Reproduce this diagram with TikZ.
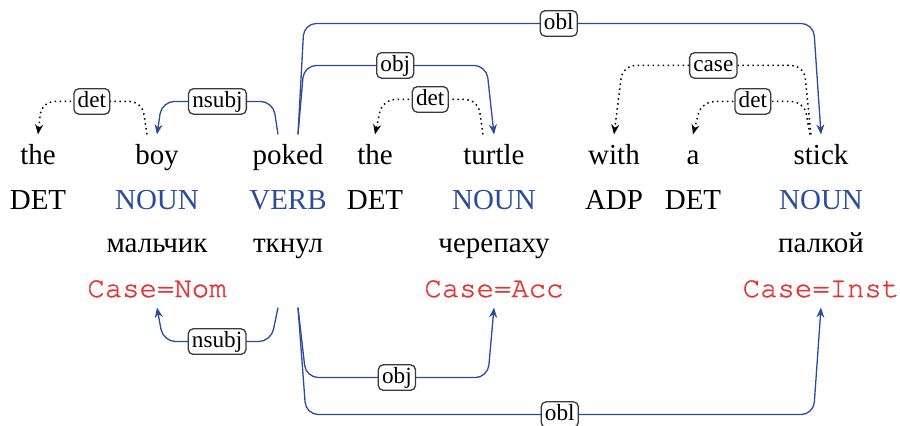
\documentclass[tikz,border=0pt]{standalone}
\usepackage{fontspec}
\setmainfont{Liberation Serif}
\setmonofont{texgyrecursor}[Extension=.otf, UprightFont=*-regular, FakeBold=1.2]
\usetikzlibrary{arrows.meta}
\definecolor{DepBlue}{HTML}{2B4C9E}
\definecolor{FeatRed}{HTML}{E63232}
\definecolor{LblGray}{HTML}{3A3A3A}

\tikzset{
  word/.style={anchor=base, text height=6.9pt, text depth=0pt, inner sep=3.1pt},
  tag/.style={anchor=base, inner sep=1pt},
  gloss/.style={anchor=base, inner sep=1pt},
  feat/.style={anchor=base, font=\ttfamily, FeatRed, text depth=0pt, inner sep=3.45pt},
  lbl/.style={draw=LblGray, solid, text=black, fill=white, line width=0.45pt, rounded corners=1.7pt,
    font=\footnotesize, inner xsep=1.3pt, inner ysep=0.7pt, text height=5.7pt, text depth=1.7pt},
  dep/.style={DepBlue, line width=0.45pt, rounded corners=4.3pt, -{Stealth[length=3.45pt,width=2.75pt]}},
  fdep/.style={black, line width=0.52pt, dash pattern=on 0.52pt off 1.2pt, rounded corners=4.3pt, -{Stealth[length=3.45pt,width=2.75pt]}}
}

\begin{document}
\begin{tikzpicture}[x=0.345pt, y=-0.345pt]
  \useasboundingbox (0,0) rectangle (900,426);
  % English words
  \node[word] (the1) at (38,164) {the};
  \node[word] (boy) at (157,164) {boy};
  \node[word] (poked) at (288,164) {poked};
  \node[word] (the2) at (375,164) {the};
  \node[word] (turtle) at (494,164) {turtle};
  \node[word] (with) at (614,164) {with};
  \node[word] (a) at (693,164) {a};
  \node[word] (stick) at (821,164) {stick};
  % POS tags
  \node[tag] (tThe1) at (38,209) {DET};
  \node[tag, DepBlue] (tBoy) at (157,209) {NOUN};
  \node[tag, DepBlue] (tPoked) at (288,209) {VERB};
  \node[tag] (tThe2) at (375,209) {DET};
  \node[tag, DepBlue] (tTurtle) at (494,209) {NOUN};
  \node[tag] (tWith) at (614,209) {ADP};
  \node[tag] (tA) at (693,209) {DET};
  \node[tag, DepBlue] (tStick) at (821,209) {NOUN};
  % Russian glosses
  \node[gloss] (ruBoy) at (157,252) {мальчик};
  \node[gloss] (ruPoked) at (288,252) {ткнул};
  \node[gloss] (ruTurtle) at (494,252) {черепаху};
  \node[gloss] (ruStick) at (821,252) {палкой};
  % case features
  \node[feat] (caseNom) at (157,297) {Case=Nom};
  \node[feat] (caseAcc) at (494,297) {Case=Acc};
  \node[feat] (caseInst) at (821,297) {Case=Inst};

  % arcs above the sentence
  \draw[fdep] ([xshift=-3.45pt]boy.north) -- ++(-5,-33) coordinate (k)
    -- node[lbl] (lDetBoy) {det} ([xshift=1.3pt]the1.north |- k) -- (the1.north);
  \draw[dep] ([xshift=-3.45pt]poked.north) -- ++(-5,-33) coordinate (k)
    -- node[lbl] (lNsubj) {nsubj} ([xshift=1.7pt]boy.north |- k) -- (boy.north);
  \draw[dep] ([xshift=3.45pt]poked.north) -- ++(6,-69) coordinate (k)
    -- node[lbl] (lObj) {obj} ([xshift=-2.6pt]turtle.north |- k) -- (turtle.north);
  \draw[dep] ([xshift=3.45pt]poked.north) -- ++(6,-111) coordinate (k)
    -- node[lbl] (lObl) {obl} ([xshift=-2.6pt]stick.north |- k) -- (stick.north);
  \draw[fdep] ([xshift=-3.8pt]turtle.north) -- ++(-5,-35) coordinate (k)
    -- node[lbl] (lDetTurtle) {det} ([xshift=2.6pt]the2.north |- k) -- (the2.north);
  \draw[fdep] ([xshift=-3.45pt]stick.north) -- ++(-7,-69) coordinate (k)
    -- node[lbl] (lCase) {case} ([xshift=3pt]with.north |- k) -- (with.north);
  \draw[fdep] ([xshift=-3.8pt]stick.north) -- ++(-6,-33) coordinate (k)
    -- node[lbl] (lDetStick) {det} ([xshift=3pt]a.north |- k) -- (a.north);

  % arcs below the case features
  \draw[dep] ([xshift=-3.45pt]ruPoked.south |- caseNom.south) -- ++(-7,34) coordinate (k)
    -- node[lbl] (lNsubjB) {nsubj} ([xshift=2.15pt]caseNom.south |- k) -- (caseNom.south);
  \draw[dep] ([xshift=3.45pt]ruPoked.south |- caseNom.south) -- ++(8,70) coordinate (k)
    -- node[lbl] (lObjB) {obj} ([xshift=-2.15pt]caseAcc.south |- k) -- (caseAcc.south);
  \draw[dep] ([xshift=3.45pt]ruPoked.south |- caseNom.south) -- ++(8,107) coordinate (k)
    -- node[lbl] (lOblB) {obl} ([xshift=-2.6pt]caseInst.south |- k) -- (caseInst.south);
\end{tikzpicture}
\end{document}
